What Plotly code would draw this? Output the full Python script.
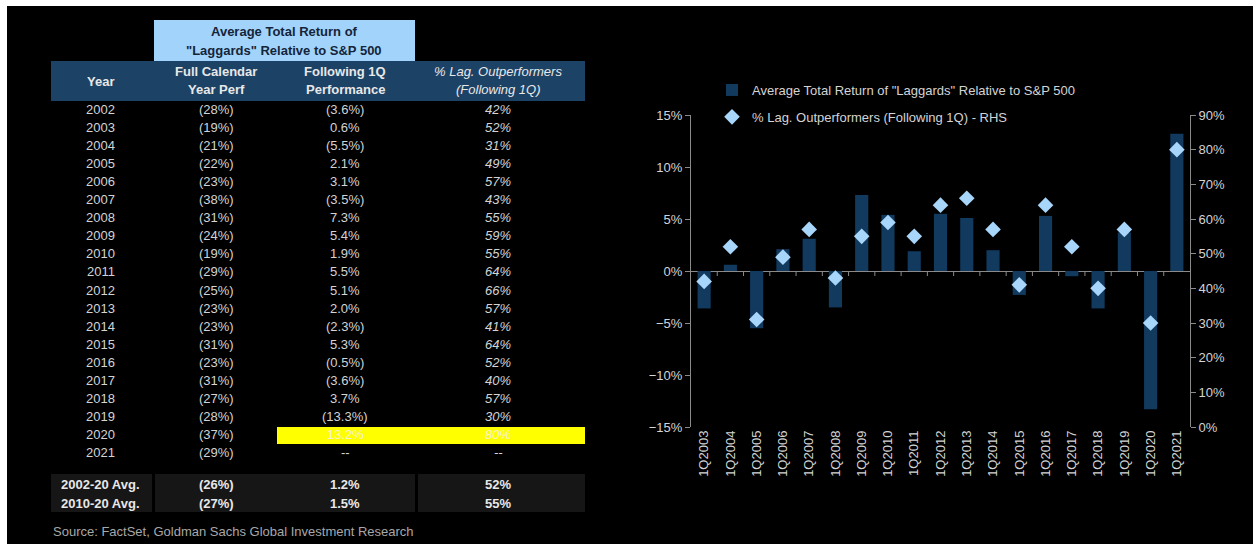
import plotly.graph_objects as go

W, H = 1253, 544

# table data
years = list(range(2002, 2022))
full_cal = [-28, -19, -21, -22, -23, -38, -31, -24, -19, -29, -25, -23, -23, -31, -23, -31, -27, -28, -37, -29]
following_1q = [-3.6, 0.6, -5.5, 2.1, 3.1, -3.5, 7.3, 5.4, 1.9, 5.5, 5.1, 2.0, -2.3, 5.3, -0.5, -3.6, 3.7, -13.3, 13.2, None]
pct_out = [42, 52, 31, 49, 57, 43, 55, 59, 55, 64, 66, 57, 41, 64, 52, 40, 57, 30, 80, None]

avg_labels = ["2002-20 Avg.", "2010-20 Avg."]
avg_full = [-26, -27]
avg_1q = [1.2, 1.5]
avg_pct = [52, 55]

# chart data (following quarter of each year)
quarters = ["1Q%d" % (y + 1) for y in years[:19]]
bar_vals = following_1q[:19]
diamond_vals = pct_out[:19]

TXT = "#d4d4d4"
FONT = "Liberation Sans, Arial, sans-serif"


# screen pixel -> paper fraction
def px(x):
    return x / W


def py(y):
    return 1 - y / H


def fmt(v, dec=0):
    if v is None:
        return "--"
    s = f"{abs(v):.{dec}f}%"
    return f"({s})" if v < 0 else s


def label(text, x, y, size=13, color=TXT, **kw):
    d = dict(text=text, x=px(x), y=py(y), xref="paper", yref="paper", showarrow=False,
             xanchor="center", yanchor="middle", font=dict(size=size, color=color, family=FONT))
    d.update(kw)
    return d


def box(x0, x1, y0, y1, color):
    return dict(type="rect", xref="paper", yref="paper", x0=px(x0), x1=px(x1), y0=py(y1), y1=py(y0),
                fillcolor=color, line=dict(width=0), layer="below")


fig = go.Figure()

fig.add_trace(go.Bar(
    x=quarters, y=bar_vals, name='Average Total Return of "Laggards" Relative to S&P 500',
    marker=dict(color="#113a5e", line=dict(width=0)), width=0.5,
    legendgroup="a",
))
fig.add_trace(go.Scatter(
    x=quarters, y=diamond_vals, yaxis="y2", mode="markers",
    name="% Lag. Outperformers (Following 1Q) - RHS",
    marker=dict(symbol="diamond", size=12, color="#a8d5fa"),
    legendgroup="b",
))

shapes = []
annotations = []

# white border at left and top
shapes.append(box(0, 7, 0, H, "white"))
shapes.append(box(0, W, 0, 6, "white"))

# title box
shapes.append(box(154, 415, 20, 61, "#a2d4fb"))
for txt, yy in [("Average Total Return of", 31), ('"Laggards" Relative to S&P 500', 50)]:
    annotations.append(label("<b>%s</b>" % txt, 284, yy, color="#14243a"))

# header bar
shapes.append(box(51, 585, 61, 101, "#1c4266"))
col_x = [101, 216, 345, 498]
headers = [("<b>Year</b>",), ("<b>Full Calendar</b>", "<b>Year Perf</b>"),
           ("<b>Following 1Q</b>", "<b>Performance</b>"),
           ("<i>% Lag. Outperformers</i>", "<i>(Following 1Q)</i>")]
for cx, lines in zip(col_x, headers):
    if len(lines) == 1:
        annotations.append(label(lines[0], cx, 81, color="#e8e8e8"))
    else:
        for ln, yy in zip(lines, [72, 90]):
            annotations.append(label(ln, cx, yy, color="#e8e8e8"))

# yellow highlight for 2020
shapes.append(box(277, 585, 427, 444, "#ffff00"))

# table rows
for i, yr in enumerate(years):
    yy = 109 + 18.1 * i
    hl = yr == 2020
    cells = [str(yr), fmt(full_cal[i]), fmt(following_1q[i], 1), "<i>%s</i>" % fmt(pct_out[i])]
    for j, (cx, t) in enumerate(zip(col_x, cells)):
        color = "#f6f3cf" if (hl and j >= 2) else TXT
        annotations.append(label(t, cx, yy, color=color))

# average rows
for x0, x1 in [(51, 152), (155, 415), (418, 585)]:
    shapes.append(box(x0, x1, 474, 512, "#161616"))
for i, lab in enumerate(avg_labels):
    yy = 484 + 19 * i
    cells = [lab, fmt(avg_full[i]), fmt(avg_1q[i], 1), fmt(avg_pct[i])]
    for cx, t in zip(col_x, cells):
        annotations.append(label("<b>%s</b>" % t, cx, yy, color="#e8e8e8"))

# source
annotations.append(label("Source: FactSet, Goldman Sachs Global Investment Research", 51, 531,
                         xanchor="left",
                         font=dict(size=13, color="#a8a8a8",
                                   family="Liberation Sans Narrow, Arial Narrow, sans-serif")))

# small tick marks on the zero line between categories
for i in range(len(quarters) - 1):
    shapes.append(dict(type="line", xref="x", yref="y", x0=i + 0.5, x1=i + 0.5,
                       ysizemode="pixel", yanchor=0, y0=0, y1=-5,
                       line=dict(color="#8a8a8a", width=1)))

axis_font = dict(size=13, color=TXT, family=FONT)

fig.update_layout(
    width=W, height=H,
    margin=dict(l=0, r=0, t=0, b=0, pad=0),
    paper_bgcolor="black", plot_bgcolor="black",
    showlegend=True,
    legend=dict(x=px(712), y=py(75), xanchor="left", yanchor="top", bgcolor="rgba(0,0,0,0)",
                font=dict(size=13, color=TXT, family=FONT), itemwidth=30, tracegroupgap=7,
                traceorder="grouped"),
    xaxis=dict(domain=[px(691), px(1190)], type="category", range=[-0.5, 18.5], automargin=False,
               tickangle=-90, tickfont=axis_font, showgrid=False, showline=False, ticks="",
               zeroline=False),
    yaxis=dict(domain=[py(427), py(115)], range=[-15, 15], dtick=5, ticksuffix="%", automargin=False,
               tickfont=axis_font, showgrid=False, showline=True, linecolor="#8a8a8a", linewidth=1,
               ticks="outside", ticklen=5, tickcolor="#8a8a8a",
               zeroline=True, zerolinecolor="#8a8a8a", zerolinewidth=1),
    yaxis2=dict(overlaying="y", side="right", range=[0, 90], dtick=10, ticksuffix="%", automargin=False,
                tickfont=axis_font, showgrid=False, showline=True, linecolor="#8a8a8a", linewidth=1,
                ticks="outside", ticklen=5, tickcolor="#8a8a8a", zeroline=False),
    shapes=shapes,
    annotations=annotations,
)

fig.write_html("out.html", config={"displayModeBar": False},
               post_script="document.body.style.margin='0';document.body.style.overflow='hidden';")
